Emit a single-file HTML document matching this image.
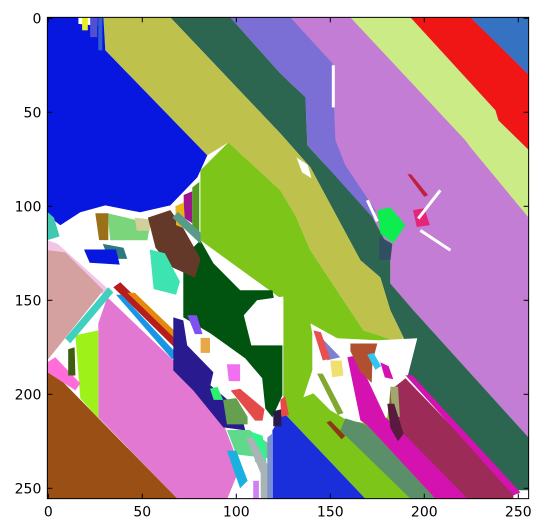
<!DOCTYPE html>
<html>
<head>
<meta charset="utf-8">
<style>
  html,body{margin:0;padding:0;background:#fff;}
  svg{display:block;}
  text{font-family:"DejaVu Sans","Liberation Sans",sans-serif;font-size:14px;fill:#000;}
</style>
</head>
<body>
<svg id="chart" width="542" height="531" viewBox="0 0 542 531">
  <g id="plot"></g>
  <g id="axes"></g>
</svg>
<script>
// Image data: label regions in pixel (data) coordinates, 0..256 square
const xTicks = [0, 50, 100, 150, 200, 250];
const yTicks = [0, 50, 100, 150, 200, 250];
const regionNames = [
 "orchid-region","blue-top-right","red-band","light-green-band","purple-band","dark-green-band","khaki-band","blue-top-left",
 "white-tl","yellow-tl","violet-tl","blue2-tl",
 "green-center","white-patch","gray-green-stripe","maroon-band","magenta-thin","magenta-band","blue-bottom",
 "dark-green-blob","white-spot","pink-big","brown-bottom-left","lime-patch","pink-stripe","dark-olive","light-pink","dusty-pink",
 "teal-stripe","red-stripe","orange-stripe","lightblue-stripe","navy-region","purple-bit","orange-bit","pink-bit",
 "olive-green-bit","red-bit-stripe","green-bit","mint-bit","spring-green-bit","gray-stripe","lightblue-bit","lavender-bit","steel-blue-bit","dark-navy-bit",
 "pale-green","dark-gold","tan","brown-band","magenta-purple","gold","olive","teal-gray","mint","teal-left","dark-teal","blue-left-bit",
 "green-triangle","dark-slate","pink-red-bit","dark-red-line",
 "purple-tri","red-bit","yellow-bit","brown-red-bit","cyan-bit","magenta-bit","olive-stripe","sage-bit","dark-maroon-bit","brown-pill","red-bit2","white-khaki"
];
const regionColors = [
 "#c47dd4","#3572c2","#f11616","#cbeb87","#7b6fd6","#2d6650","#bec24c","#0717e0",
 "#ffffff","#e8f020","#5050d0","#3060d0",
 "#7ec51a","#ffffff","#5a8f6a","#9c2b58","#d412b0","#d412b0","#1a2fd9",
 "#015310","#ffffff","#e278d2","#9a5014","#9ef21a","#ff6ed8","#3f5e10","#f3c4e6","#d4a0a0",
 "#40d0c0","#b81c1c","#e38a0c","#1796e6","#2a1a90","#8050f0","#e8a848","#f070f0",
 "#64a050","#e44a4a","#2ef070","#5fd98a","#2ff58c","#a9b4b4","#1ab0e0","#d080f0","#7a90d0","#2a1848",
 "#7bd67b","#9a7018","#d0d09a","#65392a","#a0148c","#e8b418","#559a20","#5a9a8a","#3de3b0","#40c8b0","#2a7a80","#0717e0",
 "#0ded4f","#2f5060","#e6247a","#c02040",
 "#8080d0","#e85050","#f0e070","#b05030","#30c8f0","#d412b0","#80a830","#a0a870","#5a1a40","#8b3a18","#e84848","#ffffff"
];
const regionPoints = [
 [[120,-0.5],[255.5,-0.5],[255.5,223],[194.2,155.3],[181.9,141],[181.9,123.4],[160,110],[140,60]],
 [[224.5,-0.5],[255.5,-0.5],[255.5,30]],
 [[192.6,-0.5],[224.5,-0.5],[255.5,30],[255.5,70],[239.4,54.3],[237.8,48.9]],
 [[160.7,-0.5],[192.6,-0.5],[237.8,48.9],[239.4,54.3],[255.5,70],[255.5,106],[224.5,68.6],[221.8,64.9]],
 [[96.8,-0.5],[128.7,-0.5],[151.1,23.9],[152.7,64.9],[158,78.2],[174,102.1],[172.4,108.5],[150,80.9],[137.8,67.6],[136.7,42],[123.4,29.3]],
 [[64.9,-0.5],[96.8,-0.5],[123.4,29.3],[136.7,42],[137.8,67.6],[150,80.9],[172.4,105.9],[181.9,123.4],[181.9,141],[194.2,155.3],[255.5,223],[255.5,251],[247.4,251],[191,191],[188.9,169.7],[181.9,155.3],[176.6,137.8],[166,128.7],[153.7,105.9],[139.4,79.3],[123.4,61.2]],
 [[29.3,-0.5],[64.9,-0.5],[123.4,61.2],[139.4,79.3],[153.7,105.9],[166,128.7],[176.6,137.8],[181.9,155.3],[188.9,169.7],[187.3,172.4],[167.6,166],[139.4,123.4],[131.4,104.8],[123.4,91.5],[95.8,66],[84.6,72.9],[30.3,17]],
 [[-0.5,-0.5],[29.3,-0.5],[30.3,17],[84.6,72.9],[79.3,84.6],[64.9,99.5],[48.9,103.2],[30.3,99.5],[17,103.2],[6.4,110.1],[-0.5,104.8]],
 [[16,-0.5],[26,-0.5],[26,4],[16,3]],
 [[18,-0.5],[21,-0.5],[21,6.4],[18,6.4]],
 [[22.3,-0.5],[26,-0.5],[26,10],[22.3,10]],
 [[26.6,-0.5],[28.7,-0.5],[28.7,17],[26.6,17]],
 [[95.8,66],[123.4,91.5],[131.4,104.8],[139.4,123.4],[167.6,166],[187.3,172.4],[181.9,213.9],[205.9,255.5],[168.6,255.5],[125,209.6],[125,150],[80.9,118.1],[80.9,80.9]],
 [[139.4,162.3],[153.7,170.2],[175,171.3],[196.3,170.2],[191,191],[181.9,197.9],[180.3,212.3],[169.7,215.5],[159.1,213.9],[150,208.5],[141,199.5],[135.7,201.6],[140.4,187.3],[140.4,167.6]],
 [[158,212.8],[169.7,216.5],[205.9,255.5],[192.6,255.5],[155.3,219.2]],
 [[190,191.5],[247.4,251],[247.4,255.5],[217.6,255.5],[181.9,213.9],[181.9,197.9]],
 [[190,189.9],[193.6,189.9],[251.1,252.2],[247.4,253.8]],
 [[159.1,180.3],[163.9,179.3],[179.3,212.3],[187.3,219.2],[222.9,255.5],[205.9,255.5],[169.7,216.5],[166,213.9]],
 [[119.2,255.5],[119.2,219.2],[125,209.6],[168.6,255.5]],
 [[80.9,118.1],[71.8,127.1],[71.8,159.1],[86.2,167.6],[104.8,180.9],[113.8,191.5],[115.4,207.5],[119.2,212.3],[124.5,200.6],[124.5,174],[119.2,144.7],[102.1,144.7],[87.8,130.3]],
 [[104,158],[111,150],[125,148],[125,174],[108,174]],
 [[31.4,148.4],[66.5,181.9],[77.1,194.2],[93.1,215.5],[102.1,238.9],[95.2,255.5],[68.6,255.5],[26.6,212.3],[26.6,162.3]],
 [[-0.5,185],[68.6,255.5],[-0.5,255.5]],
 [[14.4,168.6],[26.6,166],[26.6,212.8],[17,202.2]],
 [[-0.5,183],[3.7,180.3],[17,194.2],[14.4,197.9],[-0.5,188.3]],
 [[10.6,176],[14,175],[14.4,190],[10.6,190]],
 [[-0.5,118],[5,120],[33,145],[29.3,147],[-0.5,123.4]],
 [[-0.5,123.4],[9,124.5],[29.3,144.7],[-0.5,181.9]],
 [[31.9,143.1],[34.6,145.8],[11.7,172.9],[9,170.2]],
 [[34.6,143.1],[38.3,140.4],[69.2,170.2],[67.6,175.6]],
 [[42,146],[46,146],[69,168],[68,171]],
 [[36,147],[39,147],[68,178],[66,181.5]],
 [[66.5,159.1],[71.8,160.7],[73.9,174],[87.8,188.3],[86.2,195.2],[102.1,208.5],[104.8,219.2],[93.1,217.6],[77.1,197.9],[66.5,187.3]],
 [[74,158],[79,158],[82,168],[78,168]],
 [[81,170],[86,170],[86,178],[81,178]],
 [[95,184],[102,184],[102,193],[96,193]],
 [[93,203],[100,202],[106,212],[106,216],[95,216]],
 [[97,198],[102,197],[115,208],[114,214],[110,214]],
 [[86,197],[90,196],[93,203],[88,203]],
 [[95,219],[107,219],[117,226],[117,234],[100,232]],
 [[108,220],[114,222],[116,236],[110,236]],
 [[105,223],[109,223],[118,240],[118,255.5],[113,255.5],[113,242]],
 [[95,230],[100,230],[106,246],[102,250]],
 [[109,246],[112,246],[112,255.5],[109,255.5]],
 [[116.5,223],[119,221],[119,255.5],[116.5,255.5]],
 [[119.7,209],[124,208],[124,217],[119.7,217]],
 [[31.4,103.7],[54.3,109],[52.7,118.1],[33,118.1]],
 [[25,103.7],[31.9,103.7],[31.9,118],[27,118]],
 [[46,106],[54,107],[54,113],[47,113]],
 [[53,106],[64.9,102],[72,112],[81,128],[78,138],[65,132],[57,122]],
 [[72,94],[76.6,92],[76.6,109],[72,106]],
 [[67.6,100],[72,98],[73,112],[68,110]],
 [[76.6,90],[80.3,87],[80.3,115],[76.6,112]],
 [[66,106],[69,103],[81,114],[81,120]],
 [[54,123],[62,125],[70,140],[68,147],[56,144]],
 [[-0.5,103],[3,106],[6,116],[-0.5,118]],
 [[29,120],[40,122],[42,128],[32,128]],
 [[19,123],[36,123],[38,131],[22,130]],
 [[175,102.1],[181.9,100.5],[190,110.1],[183.5,119.7],[176.6,114.4]],
 [[176,116],[183,120],[182,128.5],[176,128.5]],
 [[194,102],[200,101],[203,110],[196,111]],
 [[191,83],[193,83],[202,94],[200,95]],
 [[143.1,167.6],[155.3,180.3],[148.4,181.9]],
 [[141,166],[145,167],[150,181],[146,182]],
 [[150,182],[156,182],[157,190],[151,191]],
 [[160.7,173],[175,173],[172.4,183],[172,194],[166,188],[160.7,177]],
 [[169.7,179],[173,178],[177,185],[174,187]],
 [[176.6,183],[181,185],[183.5,192],[179,191]],
 [[143,189],[146,189],[157,210],[154,211]],
 [[181.9,196],[186,196],[187,212],[183,212]],
 [[180.3,205],[184,205],[189,221],[186,225],[182,218]],
 [[148,215],[150,214],[158,222],[156,224]],
 [[123.4,203],[126,201],[128,211],[124,212]],
 [[132,74],[138,78],[140,85],[135,82]]
];
// white streaks (line segments in data coords)
const streakStarts = [[196.8,106.5],[197.9,112.8],[169.7,96.8],[151.6,25]];
const streakEnds   = [[208.5,91.5],[213.9,123.4],[175,108],[151.6,47.4]];

const X0 = 48.3, Y0 = 18.3, S = 1.88;
function xScale(v){ return X0 + S*v; }
function yScale(v){ return Y0 + S*v; }
const NS = "http://www.w3.org/2000/svg";
const plotG = document.getElementById('plot');
const axesG = document.getElementById('axes');

for (let i = 0; i < regionPoints.length; i++) {
  const p = document.createElementNS(NS, 'polygon');
  p.setAttribute('points', regionPoints[i].map(q => xScale(q[0]).toFixed(1) + ',' + yScale(q[1]).toFixed(1)).join(' '));
  p.setAttribute('fill', regionColors[i]);
  
  
  plotG.appendChild(p);
}
for (let i = 0; i < streakStarts.length; i++) {
  const l = document.createElementNS(NS, 'line');
  l.setAttribute('x1', xScale(streakStarts[i][0])); l.setAttribute('y1', yScale(streakStarts[i][1]));
  l.setAttribute('x2', xScale(streakEnds[i][0])); l.setAttribute('y2', yScale(streakEnds[i][1]));
  l.setAttribute('stroke', '#fff'); l.setAttribute('stroke-width', '3');
  
  
  plotG.appendChild(l);
}
// frame
const frameL = xScale(-0.5), frameR = xScale(255.5), frameT = yScale(-0.5), frameB = yScale(255.5);
const frame = document.createElementNS(NS, 'rect');
frame.setAttribute('x', frameL); frame.setAttribute('y', frameT);
frame.setAttribute('width', frameR - frameL); frame.setAttribute('height', frameB - frameT);
frame.setAttribute('fill', 'none'); frame.setAttribute('stroke', '#000'); frame.setAttribute('stroke-width', '1');


axesG.appendChild(frame);
const TL = 5;
xTicks.forEach(v => {
  const x = xScale(v);
  [[frameB, frameB - TL], [frameT, frameT + TL]].forEach(seg => {
    const t = document.createElementNS(NS, 'line');
    t.setAttribute('x1', x); t.setAttribute('x2', x); t.setAttribute('y1', seg[0]); t.setAttribute('y2', seg[1]);
    t.setAttribute('stroke', '#000');
    
    
    axesG.appendChild(t);
  });
  const lab = document.createElementNS(NS, 'text');
  lab.setAttribute('x', x); lab.setAttribute('y', frameB + 18);
  lab.setAttribute('text-anchor', 'middle');
  lab.textContent = v;
  
  
  axesG.appendChild(lab);
});
yTicks.forEach(v => {
  const y = yScale(v);
  [[frameL, frameL + TL], [frameR, frameR - TL]].forEach(seg => {
    const t = document.createElementNS(NS, 'line');
    t.setAttribute('y1', y); t.setAttribute('y2', y); t.setAttribute('x1', seg[0]); t.setAttribute('x2', seg[1]);
    t.setAttribute('stroke', '#000');
    
    
    axesG.appendChild(t);
  });
  const lab = document.createElementNS(NS, 'text');
  lab.setAttribute('x', frameL - 6); lab.setAttribute('y', y + 5);
  lab.setAttribute('text-anchor', 'end');
  lab.textContent = v;
  
  
  axesG.appendChild(lab);
});
</script>
</body>
</html>
